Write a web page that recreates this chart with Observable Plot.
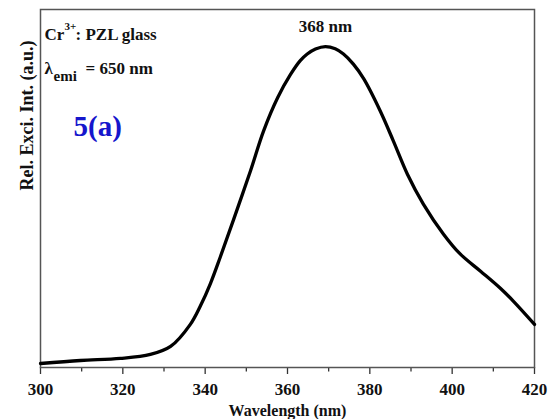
<!DOCTYPE html>
<html>
<head>
<meta charset="utf-8">
<script src="https://cdn.jsdelivr.net/npm/d3@7"></script>
<script src="https://cdn.jsdelivr.net/npm/@observablehq/plot@0.6"></script>
<style>
  html, body { margin: 0; padding: 0; background: #fff; }
  #chart svg { display: block; }
</style>
</head>
<body>
<div id="chart"></div>
<script>
// Excitation spectrum
const wavelength = [300.0, 309.7, 319.4, 326.7, 331.6, 336.4, 338.8, 341.3, 343.7, 346.9, 351.0, 354.2, 357.6, 360.7, 363.1, 364.8, 366.8, 369.2, 371.6, 373.6, 376.0, 378.5, 382.5, 385.7, 389.1, 393.0, 397.9, 402.0, 406.9, 411.7, 414.9, 420.0];
const intensity  = [1.12, 1.96, 2.52, 3.64, 5.88, 12.04, 17.09, 23.53, 30.95, 41.32, 54.90, 66.11, 75.35, 81.79, 85.71, 87.56, 88.95, 89.64, 89.02, 87.56, 84.73, 80.67, 71.71, 63.31, 54.06, 45.66, 37.25, 31.65, 26.89, 22.13, 18.49, 12.04];

const majorTicks = [300, 320, 340, 360, 380, 400, 420];
const minorTicks = [310, 330, 350, 370, 390, 410];
const xLabel = "Wavelength (nm)";
const yLabel = "Rel. Exci. Int. (a.u.)";
const peakLabel = ["368 nm"];
const peakLabelX = [369.2];
const sampleParts = ["Cr", "3+", ": PZL glass"];
const emiParts = ["λ", "emi", "= 650 nm"];
const panelLabel = "5(a)";

const data = wavelength.map((w, i) => ({w, v: intensity[i]}));

const font = "'Liberation Serif', 'Times New Roman', serif";
const ann = (text, dx, dy, size, extra = {}) =>
  Plot.text([text], {frameAnchor: "top-left", textAnchor: "start", lineAnchor: "bottom",
    dx, dy, fontSize: size, fontWeight: "bold", fill: "#111", ...extra});

const chart = Plot.plot({
  width: 552,
  height: 419,
  marginLeft: 40,
  marginRight: 18,
  marginTop: 9,
  marginBottom: 52,
  style: {fontFamily: font, background: "#fff", color: "#111"},
  x: {domain: [300, 420]},
  y: {domain: [0, 100], axis: null},
  marks: [
    Plot.axisX(minorTicks, {tickSize: 4.5, tickFormat: () => "", label: null, stroke: "#333", strokeWidth: 1.3}),
    Plot.axisX(majorTicks, {tickSize: 7, tickPadding: 8, fontSize: 17, fontWeight: "bold", label: null, stroke: "#333", strokeWidth: 1.3}),
    Plot.frame({stroke: "#555", strokeWidth: 1.5}),
    Plot.line(data, {x: "w", y: "v", curve: "catmull-rom", stroke: "#000", strokeWidth: 3.3}),
    Plot.text(peakLabel, {x: peakLabelX, frameAnchor: "top", lineAnchor: "bottom", dy: 22, fontSize: 17, fontWeight: "bold", fill: "#111"}),
    ann(sampleParts[0], 4, 30, 17),
    ann(sampleParts[1], 24, 20, 11),
    ann(sampleParts[2], 35, 30, 17),
    ann(emiParts[0], 4, 64, 17),
    ann(emiParts[1], 13, 71, 15),
    ann(emiParts[2], 45, 64, 17),
    ann(panelLabel, 33, 126, 29, {fill: "#1616cc"}),
    Plot.text([xLabel], {frameAnchor: "bottom", lineAnchor: "bottom", dy: 48, fontSize: 16, fontWeight: "bold", fill: "#111"}),
    Plot.text([yLabel], {frameAnchor: "left", lineAnchor: "bottom", rotate: -90, dx: -8, dy: 2, fontSize: 18, fontWeight: "bold", fill: "#111"})
  ]
});
document.getElementById("chart").appendChild(chart);
</script>
</body>
</html>
